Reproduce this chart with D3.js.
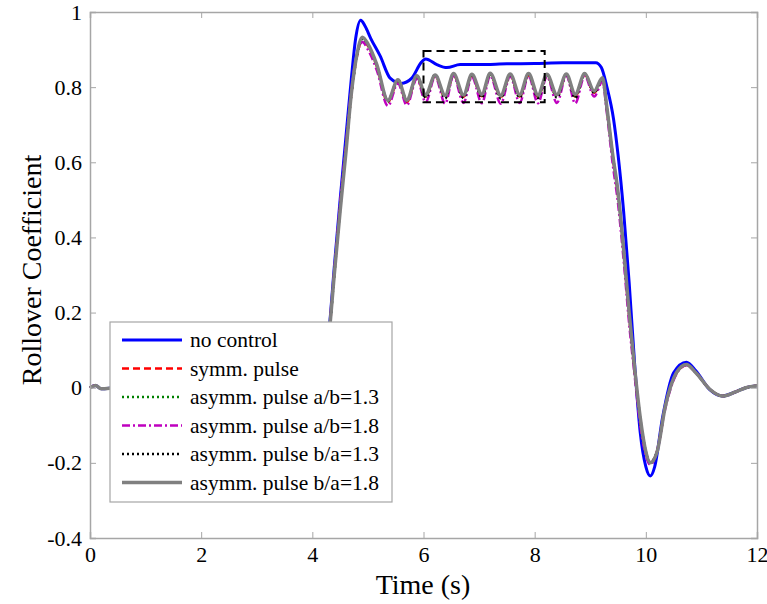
<!DOCTYPE html>
<html>
<head>
<meta charset="utf-8">
<script src="https://cdn.jsdelivr.net/npm/d3@7"></script>
<style>
  body { margin: 0; background: #fff; }
  svg { display: block; }
  svg text { font-family: "Liberation Serif", "Times New Roman", serif; }
</style>
</head>
<body>
<svg id="chart" width="767" height="604"></svg>
<script>
// x ticks / y ticks
const xTicks = [0, 2, 4, 6, 8, 10, 12];
const yTicks = [-0.4, -0.2, 0, 0.2, 0.4, 0.6, 0.8, 1];

// no control (blue)
const tBlue = [0, 0.1, 0.2, 0.5, 1, 1.5, 2, 2.5, 3, 3.5, 4,
  4.2, 4.3, 4.4, 4.5, 4.6, 4.7, 4.78, 4.87, 4.95, 5.05,
  5.22, 5.4, 5.6, 5.79, 5.96, 6.04, 6.24, 6.42, 6.66, 7.0, 7.5, 8.0, 8.5, 9.1,
  9.2, 9.3, 9.42, 9.5, 9.6, 9.7, 9.8, 9.9, 10.0, 10.08, 10.16, 10.3, 10.5, 10.73, 10.9, 11.15, 11.38, 11.6, 11.8, 12];
const noControl = [0, 0.006, -0.003, 0, 0, 0, 0, 0, 0, 0, 0.002,
  0.02, 0.15, 0.33, 0.5, 0.66, 0.82, 0.93, 0.978, 0.962, 0.93,
  0.883, 0.824, 0.81, 0.824, 0.866, 0.875, 0.86, 0.852, 0.86, 0.86, 0.862, 0.863, 0.865, 0.865,
  0.852, 0.80, 0.714, 0.62, 0.47, 0.28, 0.06, -0.12, -0.21, -0.235, -0.21, -0.08, 0.04, 0.068, 0.045, -0.005, -0.022, -0.012, 0.0, 0.005];

// controlled cases share one time grid
const tCtrl = [0, 0.1, 0.2, 0.5, 1, 1.5, 2, 2.5, 3, 3.5, 4,
  4.2, 4.3, 4.4, 4.5, 4.6, 4.7, 4.8, 4.9, 5.0,
  5.16, 5.36, 5.54, 5.7, 5.88,
  6.04, 6.21, 6.39, 6.54, 6.72, 6.87, 7.05, 7.2, 7.39, 7.56, 7.73, 7.89, 8.06, 8.22, 8.4, 8.57, 8.73, 8.9, 9.07,
  9.22, 9.3, 9.4, 9.5, 9.6, 9.7, 9.8, 9.9, 10.0, 10.08,
  10.2, 10.35, 10.55, 10.73, 10.9, 11.15, 11.38, 11.6, 11.8, 12];

const symmPulse = [0, 0.006, -0.003, 0, 0, 0, 0, 0, 0, 0, 0.002,
  0.02, 0.14, 0.31, 0.48, 0.63, 0.78, 0.88, 0.925, 0.91,
  0.855, 0.76, 0.815, 0.76, 0.825,
  0.775, 0.83, 0.772, 0.832, 0.774, 0.83, 0.776, 0.833, 0.773, 0.831, 0.775, 0.832, 0.774, 0.83, 0.776, 0.832, 0.775, 0.833, 0.785,
  0.82, 0.74, 0.62, 0.51, 0.36, 0.19, 0.04, -0.09, -0.175, -0.2,
  -0.17, -0.05, 0.038, 0.06, 0.04, -0.004, -0.022, -0.012, 0.0, 0.005];

const asymAB13 = [0, 0.006, -0.003, 0, 0, 0, 0, 0, 0, 0, 0.002,
  0.02, 0.14, 0.31, 0.48, 0.63, 0.78, 0.88, 0.928, 0.912,
  0.858, 0.762, 0.818, 0.762, 0.828,
  0.776, 0.832, 0.774, 0.834, 0.775, 0.832, 0.777, 0.835, 0.775, 0.833, 0.776, 0.834, 0.775, 0.832, 0.777, 0.834, 0.776, 0.835, 0.787,
  0.822, 0.742, 0.622, 0.515, 0.365, 0.195, 0.045, -0.085, -0.172, -0.2,
  -0.17, -0.05, 0.039, 0.061, 0.04, -0.004, -0.022, -0.012, 0.0, 0.005];

const asymAB18 = [0, 0.006, -0.003, 0, 0, 0, 0, 0, 0, 0, 0.002,
  0.02, 0.15, 0.32, 0.49, 0.64, 0.79, 0.885, 0.92, 0.9,
  0.845, 0.75, 0.81, 0.752, 0.822,
  0.76, 0.828, 0.756, 0.83, 0.758, 0.828, 0.757, 0.83, 0.756, 0.829, 0.758, 0.83, 0.757, 0.828, 0.758, 0.83, 0.757, 0.83, 0.775,
  0.815, 0.73, 0.6, 0.49, 0.34, 0.17, 0.03, -0.1, -0.18, -0.205,
  -0.17, -0.055, 0.036, 0.06, 0.04, -0.004, -0.022, -0.012, 0.0, 0.005];

const asymBA13 = [0, 0.006, -0.003, 0, 0, 0, 0, 0, 0, 0, 0.002,
  0.02, 0.14, 0.31, 0.475, 0.625, 0.78, 0.882, 0.93, 0.914,
  0.858, 0.765, 0.82, 0.765, 0.83,
  0.772, 0.834, 0.77, 0.835, 0.771, 0.834, 0.772, 0.836, 0.77, 0.834, 0.772, 0.835, 0.771, 0.834, 0.772, 0.835, 0.771, 0.836, 0.785,
  0.823, 0.743, 0.624, 0.518, 0.368, 0.198, 0.048, -0.082, -0.17, -0.198,
  -0.17, -0.05, 0.04, 0.062, 0.04, -0.004, -0.022, -0.012, 0.0, 0.005];

const asymBA18 = [0, 0.006, -0.003, 0, 0, 0, 0, 0, 0, 0, 0.002,
  0.02, 0.14, 0.31, 0.47, 0.62, 0.78, 0.885, 0.933, 0.915,
  0.86, 0.765, 0.82, 0.765, 0.83,
  0.78, 0.832, 0.778, 0.836, 0.779, 0.834, 0.781, 0.837, 0.778, 0.835, 0.78, 0.836, 0.779, 0.834, 0.78, 0.835, 0.781, 0.836, 0.79,
  0.825, 0.745, 0.625, 0.52, 0.37, 0.2, 0.05, -0.08, -0.17, -0.2,
  -0.172, -0.05, 0.04, 0.062, 0.04, -0.004, -0.022, -0.012, 0.0, 0.005];

const seriesNames = ["no control", "symm. pulse", "asymm. pulse a/b=1.3", "asymm. pulse a/b=1.8",
  "asymm. pulse b/a=1.3", "asymm. pulse b/a=1.8"];

// zoom box (data coords)
const boxT = [6.0, 8.18];
const boxV = [0.76, 0.896];

const series = [
  { name: seriesNames[0], t: tBlue, v: noControl, color: "#0000ff", width: 3, dash: null },
  { name: seriesNames[1], t: tCtrl, v: symmPulse, color: "#ff0000", width: 2.5, dash: "7,4" },
  { name: seriesNames[2], t: tCtrl, v: asymAB13, color: "#008000", width: 2.5, dash: "2,3" },
  { name: seriesNames[3], t: tCtrl, v: asymAB18, color: "#bf00bf", width: 2.5, dash: "8,3,2,3" },
  { name: seriesNames[4], t: tCtrl, v: asymBA13, color: "#000000", width: 2.5, dash: "2,3" },
  { name: seriesNames[5], t: tCtrl, v: asymBA18, color: "#808080", width: 3.5, dash: null }
];

const FONT = "'Liberation Serif', 'Times New Roman', serif";
const margin = { top: 12, right: 10, bottom: 66, left: 90 };
const W = 767, H = 604;
const w = W - margin.left - margin.right;
const h = H - margin.top - margin.bottom;

const svg = d3.select("#chart");
const g = svg.append("g").attr("transform", `translate(${margin.left},${margin.top})`);

const x = d3.scaleLinear().domain([0, 12]).range([0, w]);
const y = d3.scaleLinear().domain([-0.4, 1]).range([h, 0]);
const fmt = d => (d < 0 ? "-" : "") + d3.format("~g")(Math.abs(d));

const axisColor = "#a6a6a6";

// curves
const line = d3.line().curve(d3.curveMonotoneX);
series.forEach(s => {
  g.append("path")
    .datum(s.t.map((t, i) => [x(t), y(s.v[i])]))
    .attr("d", line)
    .attr("fill", "none")
    .attr("stroke", s.color)
    .attr("stroke-width", s.width)
    .attr("stroke-dasharray", s.dash)
    .attr("stroke-linejoin", "round");
});

// dashed zoom box
g.append("rect")
  .attr("x", x(boxT[0])).attr("y", y(boxV[1]))
  .attr("width", x(boxT[1]) - x(boxT[0]))
  .attr("height", y(boxV[0]) - y(boxV[1]))
  .attr("fill", "none").attr("stroke", "#000").attr("stroke-width", 2)
  .attr("stroke-dasharray", "8,5");

// axes with inward ticks
const styleAxis = sel => {
  sel.attr("font-family", FONT);
  sel.select(".domain").attr("stroke", axisColor).attr("stroke-width", 1.5);
  sel.selectAll(".tick line").attr("stroke", axisColor);
  sel.selectAll("text").attr("fill", "#000").style("font-size", "22px").style("font-family", FONT);
};

g.append("g").attr("transform", `translate(0,${h})`)
  .call(d3.axisBottom(x).tickValues(xTicks).tickSize(-6).tickPadding(8).tickFormat(fmt))
  .call(styleAxis);
g.append("g")
  .call(d3.axisTop(x).tickValues(xTicks).tickSize(-6).tickFormat(""))
  .call(styleAxis);
g.append("g")
  .call(d3.axisLeft(y).tickValues(yTicks).tickSize(-6).tickPadding(8).tickFormat(fmt))
  .call(styleAxis);
g.append("g").attr("transform", `translate(${w},0)`)
  .call(d3.axisRight(y).tickValues(yTicks).tickSize(-6).tickFormat(""))
  .call(styleAxis);

// axis titles
svg.append("text")
  .attr("x", 423).attr("y", 594)
  .attr("text-anchor", "middle").style("font-size", "28px").style("font-family", FONT)
  .text("Time (s)");
svg.append("text")
  .attr("transform", "translate(41,270) rotate(-90)")
  .attr("text-anchor", "middle").style("font-size", "28px").style("font-family", FONT)
  .text("Rollover Coefficient");

// legend
const lg = svg.append("g").attr("transform", "translate(110,322)");
lg.append("rect").attr("width", 282).attr("height", 180)
  .attr("fill", "#fff").attr("stroke", axisColor).attr("stroke-width", 1.2);
series.forEach((s, i) => {
  const yy = 18 + i * 28.5;
  lg.append("line")
    .attr("x1", 12).attr("x2", 72).attr("y1", yy).attr("y2", yy)
    .attr("stroke", s.color).attr("stroke-width", s.width)
    .attr("stroke-dasharray", s.dash);
  lg.append("text")
    .attr("x", 80).attr("y", yy + 7)
    .style("font-size", "21.5px").style("font-family", FONT)
    .text(s.name);
});
</script>
</body>
</html>
